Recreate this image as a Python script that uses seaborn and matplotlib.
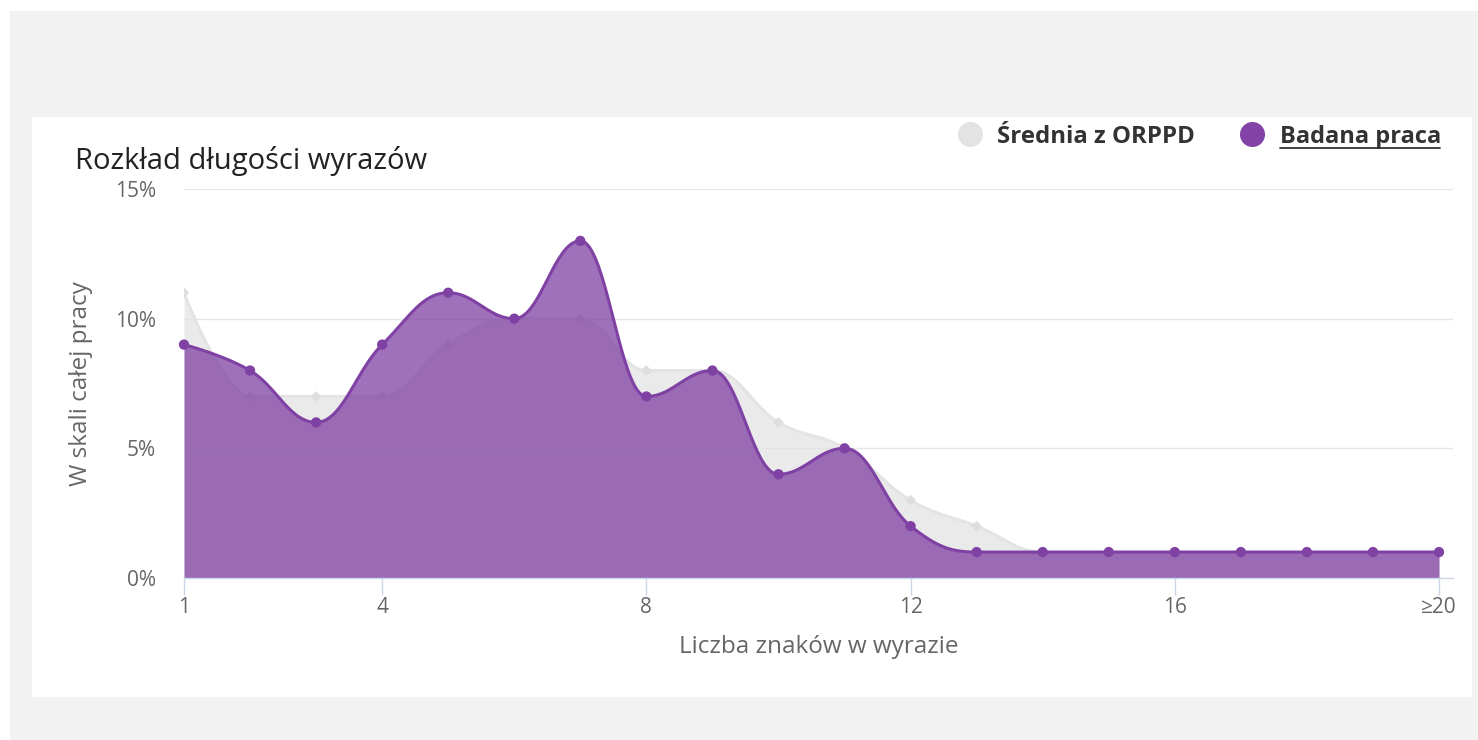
import numpy as np
import pandas as pd
import matplotlib
matplotlib.use("Agg")
import matplotlib.pyplot as plt
import seaborn as sns
from matplotlib.patches import Rectangle
from matplotlib.lines import Line2D

# ---------------- data ----------------
word_lengths = list(range(1, 21))
x_tick_positions = [1, 4, 8, 12, 16, 20]
x_tick_labels = ["1", "4", "8", "12", "16", "≥20"]
y_tick_values = [0, 5, 10, 15]
y_tick_labels = ["0%", "5%", "10%", "15%"]
orppd_avg = [11, 7, 7, 7, 9, 10, 10, 8, 8, 6, 5, 3, 2, 1, 1, 1, 1, 1, 1, 1]
studied_work = [9, 8, 6, 9, 11, 10, 13, 7, 8, 4, 5, 2, 1, 1, 1, 1, 1, 1, 1, 1]
series_names = ["Średnia z ORPPD", "Badana praca"]
title_text = "Rozkład długości wyrazów"
x_label = "Liczba znaków w wyrazie"
y_label = "W skali całej pracy"

GRAY = "#e4e4e4"
PURPLE = "#7f41a3"
AXIS_TXT = "#666666"


def spline(xs, ys, smoothing=1.5, n=40):
    """Highcharts-style areaspline smoothing through the data points."""
    xs = np.asarray(xs, float)
    ys = np.asarray(ys, float)
    m = len(xs)
    lcx, lcy, rcx, rcy = xs.copy(), ys.copy(), xs.copy(), ys.copy()
    d = smoothing + 1
    for i in range(1, m - 1):
        px, py = xs[i], ys[i]
        lx, ly = xs[i - 1], ys[i - 1]
        nx, ny = xs[i + 1], ys[i + 1]
        a = (smoothing * px + lx) / d
        b = (smoothing * py + ly) / d
        c = (smoothing * px + nx) / d
        e = (smoothing * py + ny) / d
        if c != a:
            corr = (e - b) * (c - px) / (c - a) + py - e
            b += corr
            e += corr
        if b > ly and b > py:
            b = max(ly, py); e = 2 * py - b
        elif b < ly and b < py:
            b = min(ly, py); e = 2 * py - b
        if e > ny and e > py:
            e = max(ny, py); b = 2 * py - e
        elif e < ny and e < py:
            e = min(ny, py); b = 2 * py - e
        lcx[i], lcy[i], rcx[i], rcy[i] = a, b, c, e
    t = np.linspace(0, 1, n)
    ox, oy = [], []
    for i in range(m - 1):
        p0x, p0y = xs[i], ys[i]
        p1x, p1y = rcx[i], rcy[i]
        p2x, p2y = lcx[i + 1], lcy[i + 1]
        p3x, p3y = xs[i + 1], ys[i + 1]
        tt = t if i == 0 else t[1:]
        bx = (1 - tt) ** 3 * p0x + 3 * (1 - tt) ** 2 * tt * p1x + 3 * (1 - tt) * tt ** 2 * p2x + tt ** 3 * p3x
        by = (1 - tt) ** 3 * p0y + 3 * (1 - tt) ** 2 * tt * p1y + 3 * (1 - tt) * tt ** 2 * p2y + tt ** 3 * p3y
        ox.extend(bx); oy.extend(by)
    return np.array(ox), np.array(oy)


sns.set_theme(style="white")
plt.rcParams["font.family"] = ["Open Sans", "DejaVu Sans"]

W, H = 1478, 740
fig = plt.figure(figsize=(W / 100, H / 100), dpi=100)
fig.patch.set_facecolor("white")

# background panels
fig.add_artist(Rectangle((10 / W, 0), 1, (H - 11) / H, transform=fig.transFigure,
                         facecolor="#f2f2f2", edgecolor="none", zorder=-10))
fig.add_artist(Rectangle((32 / W, 1 - 697 / H), 1440 / W, 580 / H, transform=fig.transFigure,
                         facecolor="white", edgecolor="none", zorder=-9))

left, right, top, bottom = 184, 1453, 189, 578
ax = fig.add_axes([left / W, 1 - bottom / H, (right - left) / W, (bottom - top) / H])
ax.set_facecolor("none")

px_per_unit = (1439 - 184) / 19
ax.set_xlim(1, 20 + (right - 1439) / px_per_unit)
ax.set_ylim(0, 15)

df = pd.DataFrame({"x": word_lengths, "orppd": orppd_avg, "work": studied_work})

# grey series
gx, gy = spline(df["x"], df["orppd"])
ax.fill_between(gx, 0, gy, color=GRAY, alpha=0.75, linewidth=0, zorder=2)
sns.lineplot(x=gx, y=gy, sort=False, estimator=None, color=GRAY, linewidth=2.2, ax=ax, zorder=3)
sns.scatterplot(x=df["x"], y=df["orppd"], marker="D", s=30, color="#dedede", edgecolor="none",
                ax=ax, zorder=4)

# purple series
px_, py_ = spline(df["x"], df["work"])
ax.fill_between(px_, 0, py_, color=PURPLE, alpha=0.75, linewidth=0, zorder=5)
sns.lineplot(x=px_, y=py_, sort=False, estimator=None, color=PURPLE, linewidth=2.2, ax=ax, zorder=6)
sns.scatterplot(x=df["x"], y=df["work"], marker="o", s=55, color=PURPLE, edgecolor="none",
                ax=ax, zorder=7, clip_on=False)

# grid & axes
for v in y_tick_values[1:]:
    ax.axhline(v, color="#e6e6e6", linewidth=1, zorder=1)
for s in ["top", "right", "left"]:
    ax.spines[s].set_visible(False)
ax.spines["bottom"].set_color("#ccd6eb")
ax.spines["bottom"].set_linewidth(1)
ax.spines["bottom"].set_zorder(8)

ax.set_xticks(x_tick_positions)
ax.set_xticklabels(x_tick_labels, family=["Open Sans", "DejaVu Sans"])
ax.set_yticks(y_tick_values)
ax.set_yticklabels(y_tick_labels)
ax.tick_params(axis="x", length=12, width=1, color="#ccd6eb", direction="out", pad=2,
               labelsize=15, labelcolor=AXIS_TXT, bottom=True)
ax.tick_params(axis="y", length=0, pad=20, labelsize=15, labelcolor=AXIS_TXT)
ax.set_xlabel(x_label, fontsize=17.5, color=AXIS_TXT, labelpad=12)
ax.set_ylabel(y_label, fontsize=17.5, color=AXIS_TXT, labelpad=16)
ax.set_zorder(2)

# title
fig.text(75 / W, 1 - 161 / H, title_text, fontsize=21, color="#222222", ha="left", va="center")

# legend
ly = 1 - 134 / H
lb = 1 - 143 / H
fig.add_artist(Line2D([970 / W], [ly], marker="o", markersize=17, color="#e3e3e3",
                      linestyle="none", transform=fig.transFigure))
fig.text(997 / W, lb, series_names[0], fontsize=17.3, fontweight="bold", color="#333333",
         ha="left", va="baseline")
fig.add_artist(Line2D([1252 / W], [ly], marker="o", markersize=17, color="#8343a6",
                      linestyle="none", transform=fig.transFigure))
fig.text(1280 / W, lb, series_names[1], fontsize=17, fontweight="bold", color="#333333",
         ha="left", va="baseline")
fig.add_artist(Line2D([1280 / W, 1440 / W], [1 - 148 / H, 1 - 148 / H], color="#333333",
                      linewidth=1.3, transform=fig.transFigure))

fig.savefig("out.png", dpi=100)
